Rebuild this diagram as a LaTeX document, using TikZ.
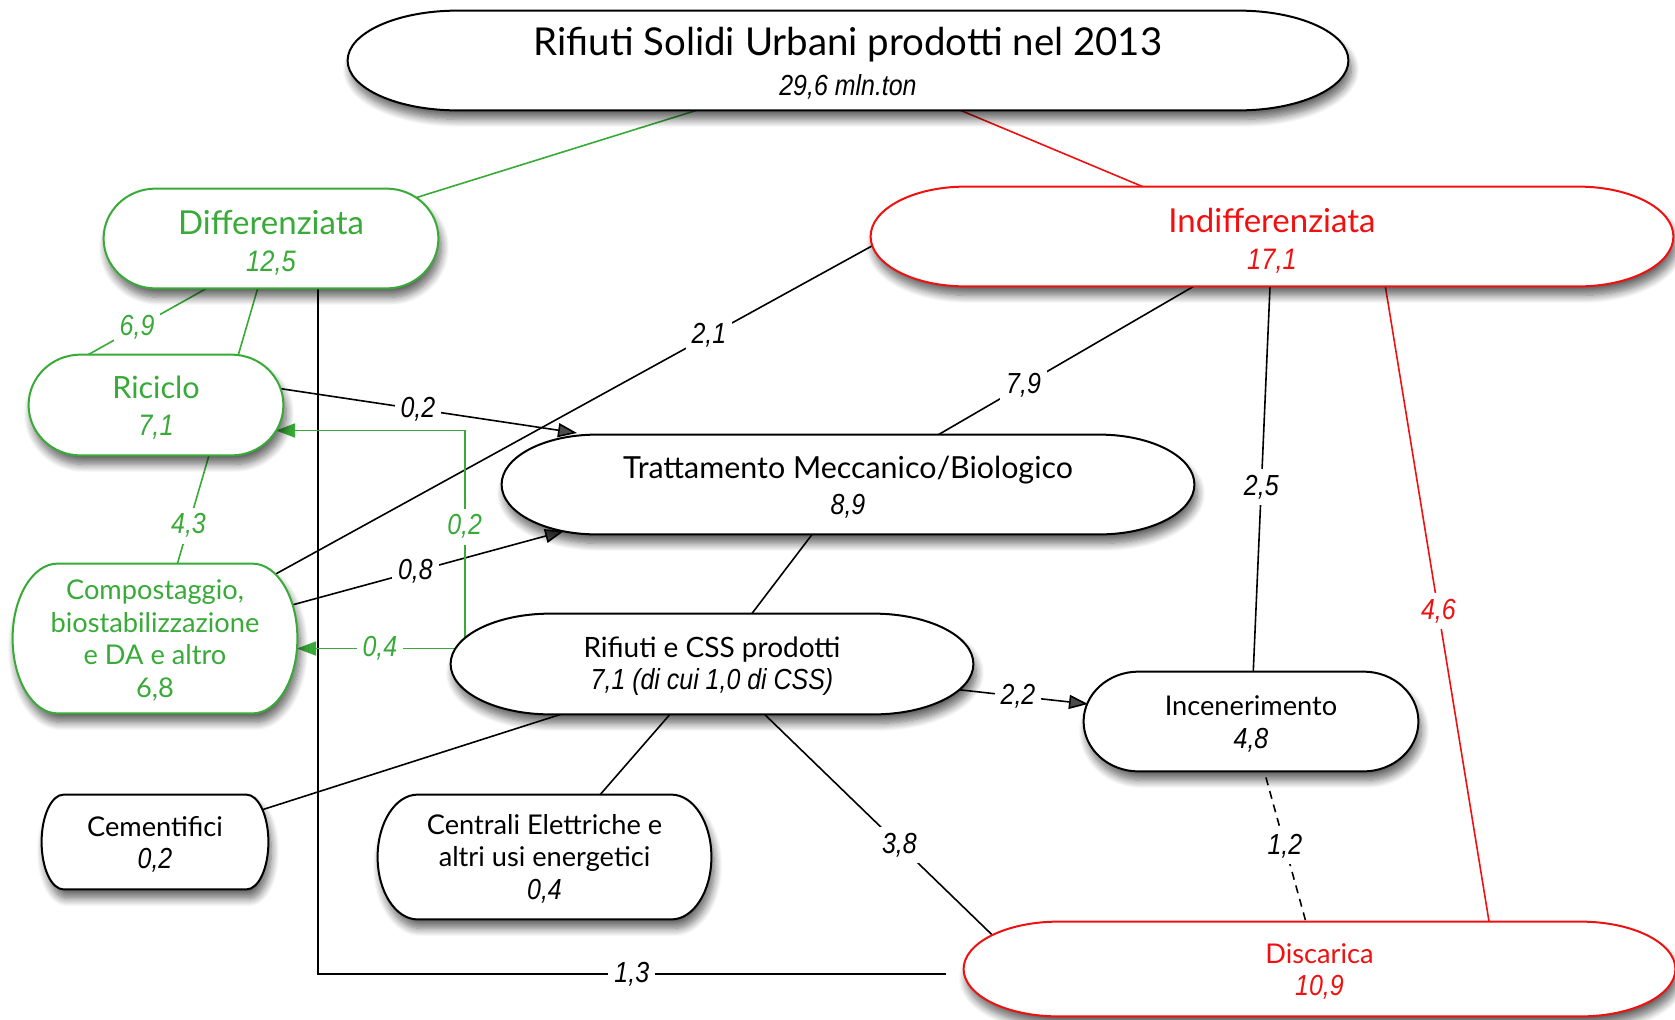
\documentclass[tikz,border=0pt]{standalone}
\usepackage{fontspec}
\setmainfont{Lato}
\newfontfamily\numf[FakeStretch=0.86]{Liberation Sans}
\newcommand\nit{\numf\itshape}
\newcommand\fs[2]{\fontsize{#1}{#2}\selectfont\lineskiplimit=-30pt\relax}
\usetikzlibrary{calc,arrows.meta,shadows.blur}
\definecolor{gr}{RGB}{56,170,56}
\definecolor{rd}{RGB}{240,16,16}
\pgfdeclarelayer{back}\pgfdeclarelayer{mid}\pgfsetlayers{back,mid,main}
\tikzset{
  box/.style={rectangle, inner sep=0pt, align=center},
  lab/.style={fill=white, inner sep=3pt, font=\nit\fs{14.5}{16}},
  conn/.style={line width=0.8pt},
  arr/.style={conn, -{Triangle[length=9.5pt,width=7pt]}},
  pillst/.style={fill=white, line width=1pt,
    blur shadow={shadow xshift=1.5pt, shadow yshift=-4.5pt, shadow blur radius=4pt, shadow blur steps=10, shadow opacity=60}},
}
% #1 node, #2 end radius (px), #3 style, #4 vertical offset of outline (px, negative = up)
\newcommand\pill[4]{%
\begin{pgfonlayer}{mid}
\draw[pillst,#3] ($(#1.north west)+(#2,#4)$) -- ($(#1.north east)+(-#2,#4)$)
  .. controls ($(#1.north east)+(-0.4477*#2,#4)$) and ($(#1.east)!0.5523!(#1.north east)+(0,#4)$) .. ($(#1.east)+(0,#4)$)
  .. controls ($(#1.east)!0.5523!(#1.south east)+(0,#4)$) and ($(#1.south east)+(-0.4477*#2,#4)$) .. ($(#1.south east)+(-#2,#4)$)
  -- ($(#1.south west)+(#2,#4)$)
  .. controls ($(#1.south west)+(0.4477*#2,#4)$) and ($(#1.west)!0.5523!(#1.south west)+(0,#4)$) .. ($(#1.west)+(0,#4)$)
  .. controls ($(#1.west)!0.5523!(#1.north west)+(0,#4)$) and ($(#1.north west)+(0.4477*#2,#4)$) .. cycle;
\end{pgfonlayer}}
\begin{document}
\begin{tikzpicture}[x=0.5pt,y=-0.5pt]
\useasboundingbox (0,0) rectangle (1675,1019);
% nodes
\node[box, minimum width=500pt, minimum height=49.5pt, font=\fs{19.2}{20.3}] (top) at (848,63.2)
  {Rifiuti Solidi Urbani prodotti nel 2013\\{\nit\fs{14.5}{20.3}29,6 mln.ton}};
\node[box, minimum width=167pt, minimum height=49.5pt, text=gr, font=\fs{16.5}{18.2}] (diff) at (271,242.8)
  {Differenziata\\{\nit\fs{14.8}{18.2}12,5}};
\node[box, minimum width=401pt, minimum height=49.5pt, text=rd, font=\fs{16.5}{18.2}] (indiff) at (1272,240.8)
  {Indifferenziata\\{\nit\fs{14.8}{18.2}17,1}};
\node[box, minimum width=127pt, minimum height=50pt, text=gr, font=\fs{15.3}{18.2}] (ric) at (156,407.7)
  {Riciclo\\{\nit\fs{14.8}{18.2}7,1}};
\node[box, minimum width=346pt, minimum height=49.5pt, font=\fs{15.2}{17.7}] (tmb) at (848,487.2)
  {Trattamento Meccanico/Biologico\\{\nit\fs{14.5}{17.7}8,9}};
\node[box, minimum width=142pt, minimum height=74.5pt, text=gr, font=\fs{13.6}{16.4}] (comp) at (155,640.5)
  {Compostaggio,\\biostabilizzazione\\e DA e altro\\6,8};
\node[box, minimum width=261pt, minimum height=50pt, font=\fs{14}{16}] (rif) at (712,666)
  {Rifiuti e CSS prodotti\\{\nit\fs{14.5}{16}7,1 (di cui 1,0 di CSS)}};
\node[box, minimum width=167pt, minimum height=49.5pt, font=\fs{13.6}{16.5}] (inc) at (1251,723.5)
  {Incenerimento\\{\nit\fs{14.5}{16.5}4,8}};
\node[box, minimum width=113pt, minimum height=47pt, font=\fs{13.6}{16}] (cem) at (155,844)
  {Cementifici\\{\nit\fs{14.5}{16}0,2}};
\node[box, minimum width=166.5pt, minimum height=62pt, font=\fs{13.6}{16.3}] (cen) at (544.5,858.6)
  {Centrali Elettriche e\\altri usi energetici\\{\nit\fs{14.5}{16.3}0,4}};
\node[box, minimum width=355.5pt, minimum height=47pt, text=rd, font=\fs{13.6}{16}] (disc) at (1319.5,971)
  {Discarica\\{\nit\fs{14.5}{16}10,9}};
% outlines
\pill{top}{110}{draw=black}{-2.7}
\pill{diff}{52}{draw=gr}{-4.3}
\pill{indiff}{95}{draw=rd}{-4.3}
\pill{ric}{52}{draw=gr}{-2.7}
\pill{tmb}{95}{draw=black}{-2.7}
\pill{comp}{45}{draw=gr}{-2}
\pill{rif}{100}{draw=black}{-2}
\pill{inc}{55}{draw=black}{-2}
\pill{cem}{22}{draw=black}{-2}
\pill{cen}{40}{draw=black}{-1.6}
\pill{disc}{95}{draw=rd}{-2}
% connectors
\begin{pgfonlayer}{back}
\draw[conn,gr] (top.center) -- (diff.center);
\draw[conn,rd] (top.center) -- (indiff.center);
\draw[conn,gr] (diff.center) -- node[lab,text=gr,pos=0.711]{4,3} (comp.center);
\draw[conn,gr] ($(diff.center)+(-37.6,30.6)$) -- node[lab,text=gr,pos=0.561]{6,9} ($(ric.center)+(-94.3,-38.2)$);
\draw[conn] ($(comp.center)+(62.5,-34.5)$) -- node[lab,pos=0.70]{2,1} ($(indiff.center)+(-352.5,-21)$);
\draw[conn] ($(diff.center)+(47,8)$) |- node[lab,pos=0.75]{1,3} ($(disc.west)+(-18,3)$);
\draw[arr] ($(ric.center)+(97.6,-23.1)$) -- node[lab,pos=0.508]{0,2} ($(tmb.center)+(-271,-54.2)$);
\draw[arr] ($(comp.center)+(116.4,-29.9)$) -- node[lab,pos=0.492]{0,8} ($(tmb.center)+(-284,43.8)$);
\draw[conn] (indiff.center) -- node[lab,pos=0.586]{7,9} (tmb.center);
\draw[conn] (indiff.center) -- node[lab,pos=0.51]{2,5} (inc.center);
\draw[conn,rd] ($(indiff.center)+(103,-17.8)$) -- node[lab,text=rd,pos=0.51]{4,6} ($(disc.center)+(179.8,13.5)$);
\draw[conn] (tmb.center) -- (rif.center);
\draw[conn] (rif.center) -- (cem.center);
\draw[conn] (rif.center) -- (cen.center);
\draw[conn] ($(rif.center)+(7.3,4.5)$) -- node[lab,pos=0.607]{3,8} ($(disc.center)+(-303.5,-13)$);
\draw[conn, dash pattern=on 4pt off 3pt] (inc.center) -- node[lab,pos=0.495]{1,2} (disc.center);
\draw[arr] ($(rif.center)+(224.2,21.2)$) -- node[lab,pos=0.539]{2,2} ($(inc.center)+(-163,-19.5)$);
\draw[arr,gr] ($(rif.center)+(-232,-17.5)$) -- node[lab,text=gr,pos=0.547]{0,4} ($(comp.center)+(142,8)$);
\draw[arr,gr] ($(rif.center)+(-247.3,-16)$) |- node[lab,text=gr,pos=0.281]{0,2} ($(ric.center)+(120,22.8)$);
\end{pgfonlayer}
\end{tikzpicture}
\end{document}
